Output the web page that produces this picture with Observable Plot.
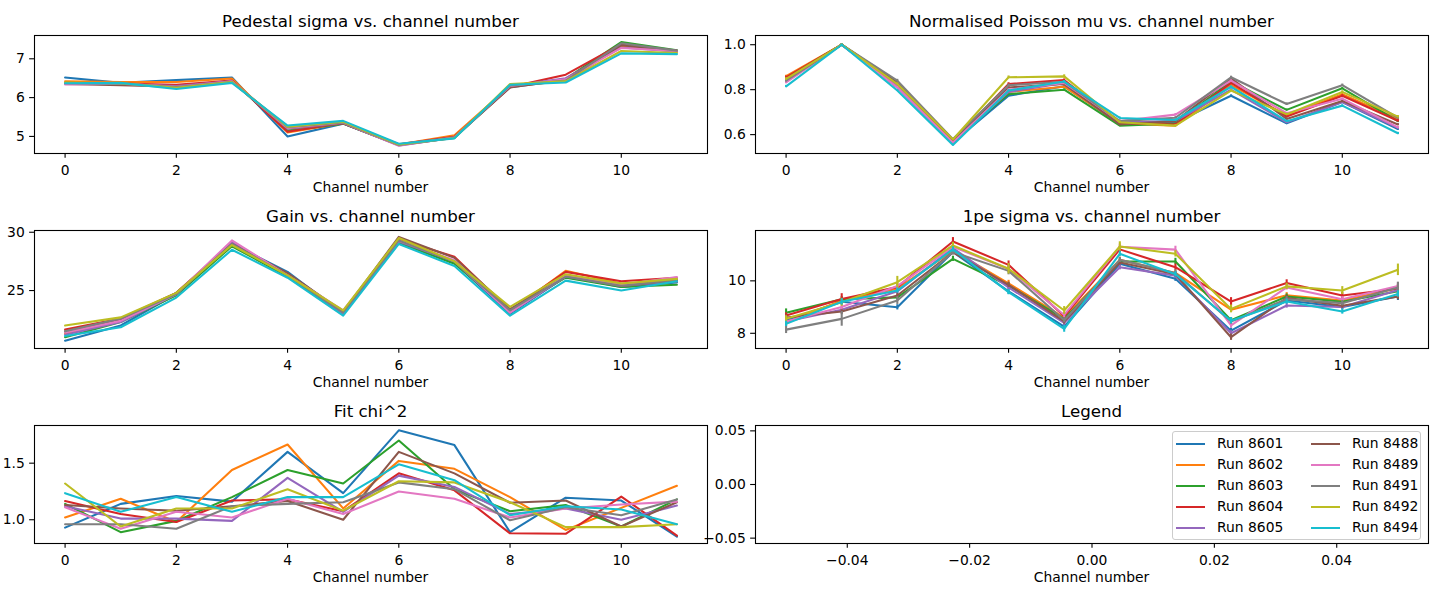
<!DOCTYPE html>
<html><head><meta charset="utf-8">
<script src="https://cdn.jsdelivr.net/npm/d3@7"></script>
<script src="https://cdn.jsdelivr.net/npm/@observablehq/plot@0.6"></script>
<style>
body{margin:0;background:#fff;font-family:"DejaVu Sans",sans-serif;color:#000;}
#root{position:relative;width:1440px;height:600px;overflow:hidden;background:#fff;}
.pl{position:absolute;}
.ttl{position:absolute;font-size:16.67px;line-height:1;white-space:nowrap;transform:translate(-50%,-50%);}
.xl{position:absolute;font-size:13.89px;line-height:1;white-space:nowrap;transform:translate(-50%,-50%);}
.leg{position:absolute;left:1172px;top:431px;width:249px;height:109px;border:1px solid #cccccc;border-radius:3px;background:rgba(255,255,255,0.8);box-sizing:border-box;}
.sw{position:absolute;height:2.1px;width:29px;}
.lt{position:absolute;font-size:13.89px;line-height:1;white-space:nowrap;transform:translateY(-50%);}
</style></head>
<body><div id="root"></div>
<script>
const channels = [0,1,2,3,4,5,6,7,8,9,10,11];
const runs = ["Run 8601","Run 8602","Run 8603","Run 8604","Run 8605","Run 8488","Run 8489","Run 8491","Run 8492","Run 8494"];
const colors = ["#1f77b4","#ff7f0e","#2ca02c","#d62728","#9467bd","#8c564b","#e377c2","#7f7f7f","#bcbd22","#17becf"];
const xTicks = [0,2,4,6,8,10];

const pedestalSigma = [
  [6.52,6.38,6.45,6.52,5.00,5.33,4.77,4.97,6.27,6.45,7.38,7.20],
  [6.42,6.40,6.40,6.49,5.10,5.34,4.79,5.03,6.30,6.42,7.33,7.18],
  [6.38,6.35,6.30,6.43,5.15,5.33,4.78,4.98,6.28,6.48,7.43,7.22],
  [6.37,6.36,6.33,6.44,5.12,5.35,4.80,4.99,6.27,6.59,7.38,7.20],
  [6.35,6.35,6.30,6.42,5.20,5.34,4.79,4.98,6.30,6.50,7.29,7.19],
  [6.35,6.32,6.28,6.41,5.22,5.33,4.78,4.97,6.26,6.46,7.35,7.21],
  [6.34,6.36,6.28,6.42,5.22,5.35,4.76,4.97,6.30,6.47,7.28,7.20],
  [6.37,6.36,6.27,6.41,5.24,5.36,4.78,4.96,6.31,6.44,7.40,7.21],
  [6.39,6.37,6.25,6.40,5.25,5.38,4.79,4.96,6.35,6.42,7.20,7.15],
  [6.37,6.38,6.22,6.38,5.28,5.40,4.81,4.95,6.33,6.39,7.14,7.12]
];
const poissonMu = [
  [0.840,1.0,0.810,0.565,0.773,0.815,0.650,0.655,0.773,0.650,0.745,0.625],
  [0.860,1.0,0.820,0.570,0.790,0.813,0.650,0.640,0.820,0.685,0.780,0.670],
  [0.850,1.0,0.830,0.575,0.780,0.800,0.640,0.650,0.837,0.710,0.806,0.660],
  [0.855,1.0,0.815,0.570,0.825,0.843,0.650,0.645,0.830,0.680,0.773,0.662],
  [0.840,1.0,0.820,0.565,0.790,0.830,0.655,0.660,0.800,0.655,0.745,0.630],
  [0.845,1.0,0.830,0.575,0.810,0.825,0.645,0.660,0.850,0.670,0.750,0.645],
  [0.832,1.0,0.810,0.565,0.800,0.830,0.660,0.689,0.840,0.695,0.760,0.632],
  [0.840,1.0,0.840,0.580,0.820,0.835,0.660,0.675,0.855,0.736,0.820,0.675],
  [0.848,1.0,0.825,0.578,0.855,0.859,0.655,0.640,0.796,0.690,0.790,0.680],
  [0.815,1.0,0.796,0.554,0.796,0.836,0.674,0.665,0.813,0.660,0.729,0.606]
];
const poissonMuErr = [
  [0.004,0.003,0.004,0.003,0.004,0.004,0.004,0.004,0.004,0.004,0.004,0.004],
  [0.004,0.003,0.004,0.003,0.004,0.004,0.004,0.004,0.004,0.004,0.004,0.004],
  [0.004,0.003,0.004,0.003,0.004,0.004,0.004,0.004,0.004,0.004,0.004,0.004],
  [0.005,0.004,0.005,0.004,0.006,0.005,0.005,0.005,0.005,0.005,0.005,0.005],
  [0.004,0.003,0.004,0.003,0.004,0.004,0.004,0.004,0.004,0.004,0.004,0.004],
  [0.004,0.003,0.004,0.003,0.004,0.004,0.004,0.004,0.004,0.004,0.004,0.004],
  [0.004,0.003,0.004,0.003,0.004,0.004,0.004,0.005,0.004,0.004,0.004,0.004],
  [0.005,0.004,0.006,0.004,0.005,0.005,0.005,0.005,0.005,0.005,0.005,0.005],
  [0.005,0.004,0.005,0.004,0.006,0.007,0.005,0.005,0.005,0.005,0.005,0.005],
  [0.004,0.003,0.004,0.003,0.004,0.004,0.004,0.004,0.004,0.004,0.004,0.004]
];
const gain = [
  [20.7,22.0,24.7,29.0,26.6,23.0,29.2,27.4,23.0,26.2,25.3,25.7],
  [21.3,22.4,24.7,29.0,26.3,23.1,29.2,27.5,23.2,26.7,25.6,25.8],
  [21.0,22.3,24.6,28.8,26.2,23.0,29.1,27.3,23.3,26.1,25.3,25.5],
  [21.66,22.6,24.8,29.1,26.4,23.1,29.4,27.9,23.3,26.6,25.8,26.1],
  [21.2,22.3,24.7,29.1,26.4,23.0,29.2,27.5,23.1,26.2,25.4,25.8],
  [21.5,22.5,24.8,29.0,26.5,23.2,29.6,27.8,23.4,26.3,25.4,25.9],
  [21.4,22.4,24.7,29.3,26.3,23.3,29.3,27.6,23.1,26.3,25.5,26.15],
  [21.5,22.6,24.7,29.0,26.3,23.1,29.3,27.5,23.3,26.2,25.4,25.9],
  [22.0,22.7,24.8,28.9,26.3,23.3,29.5,27.5,23.6,26.4,25.6,26.0],
  [21.1,21.85,24.4,28.5,26.1,22.85,29.0,27.1,22.85,25.85,25.0,25.8]
];
const peSigma = [
  [8.50,9.20,8.99,11.10,9.60,8.25,10.65,10.08,8.10,9.25,9.00,9.40],
  [8.40,9.25,9.70,11.15,9.90,8.60,10.80,10.30,8.90,9.45,9.25,9.72],
  [8.78,9.30,9.37,10.84,9.82,8.55,10.74,10.74,8.50,9.40,9.20,9.60],
  [8.68,9.31,9.76,11.50,10.61,8.65,11.20,10.52,9.21,9.92,9.44,9.70],
  [8.45,8.90,9.60,11.25,9.75,8.40,10.52,10.20,8.00,9.06,9.00,9.65],
  [8.60,8.83,9.44,11.09,9.85,8.45,10.70,10.25,7.85,9.35,9.05,9.40],
  [8.45,9.00,9.80,11.30,10.45,8.70,11.30,11.19,8.30,9.75,9.30,9.80],
  [8.14,8.55,9.25,11.10,10.38,8.50,10.80,10.30,8.45,9.30,9.15,9.75],
  [8.55,9.18,9.95,11.35,10.46,8.87,11.31,11.03,8.93,9.79,9.63,10.42],
  [8.36,9.20,9.63,11.20,9.57,8.17,11.03,10.25,8.48,9.21,8.83,9.50]
];
const peSigmaErr = [
  [0.10,0.12,0.10,0.10,0.12,0.10,0.10,0.10,0.10,0.10,0.10,0.15],
  [0.10,0.10,0.10,0.10,0.12,0.10,0.10,0.10,0.10,0.10,0.10,0.12],
  [0.15,0.10,0.10,0.10,0.10,0.10,0.10,0.12,0.10,0.10,0.10,0.12],
  [0.10,0.20,0.12,0.15,0.15,0.12,0.12,0.12,0.15,0.12,0.12,0.15],
  [0.10,0.10,0.10,0.10,0.10,0.10,0.10,0.10,0.10,0.10,0.10,0.12],
  [0.10,0.12,0.10,0.10,0.10,0.10,0.10,0.10,0.12,0.10,0.10,0.12],
  [0.10,0.10,0.12,0.10,0.12,0.10,0.10,0.13,0.10,0.10,0.10,0.12],
  [0.15,0.28,0.15,0.10,0.15,0.10,0.10,0.12,0.10,0.10,0.10,0.20],
  [0.12,0.15,0.22,0.12,0.20,0.15,0.18,0.12,0.15,0.12,0.15,0.22],
  [0.10,0.12,0.10,0.10,0.10,0.13,0.10,0.10,0.12,0.10,0.10,0.12]
];
const fitChi2 = [
  [0.93,1.14,1.21,1.16,1.60,1.235,1.79,1.66,0.89,1.195,1.17,0.85],
  [1.02,1.185,0.98,1.44,1.665,1.10,1.52,1.45,1.20,0.91,1.105,1.30],
  [1.14,0.89,0.99,1.20,1.44,1.32,1.70,1.27,1.075,1.13,0.94,1.18],
  [1.165,1.05,0.98,1.17,1.18,1.075,1.41,1.26,0.88,0.876,1.205,0.86],
  [1.12,1.01,1.01,0.99,1.37,1.07,1.39,1.29,1.05,1.10,1.00,1.125],
  [1.13,1.10,1.08,1.12,1.165,1.00,1.60,1.41,1.15,1.17,0.94,1.155],
  [1.11,0.92,1.07,1.02,1.185,1.05,1.25,1.185,1.02,1.10,1.135,1.16],
  [0.96,0.96,0.92,1.12,1.14,1.155,1.33,1.27,0.995,1.11,1.04,1.18],
  [1.32,0.94,1.10,1.10,1.27,1.08,1.34,1.33,1.155,0.935,0.935,0.96],
  [1.235,1.07,1.20,1.07,1.20,1.20,1.49,1.35,1.04,1.12,1.09,0.96]
];
const titles = ["Pedestal sigma vs. channel number","Normalised Poisson mu vs. channel number","Gain vs. channel number","1pe sigma vs. channel number","Fit chi^2","Legend"];
const xLabel = "Channel number";

const root = document.getElementById("root");
const FW = 673, FH = 118;
const cols = [{left:0, mL:34, fx:34}, {left:700, mL:55, fx:755}];
const rows = [35, 230, 425];

function tidy(values, errs){
  const out = [];
  values.forEach((row, i) => row.forEach((v, j) => out.push({run: runs[i], ch: channels[j], v, e: errs ? errs[i][j] : 0})));
  return out;
}

function addText(cls, text, x, y){
  const d = document.createElement("div");
  d.className = cls; d.textContent = text;
  d.style.left = x + "px"; d.style.top = y + "px";
  root.appendChild(d);
}

function panel(ci, ri, title, opts){
  const c = cols[ci], top = rows[ri];
  const mT = 5, mB = 30, mR = 6;
  const marks = [];
  if (opts.values){
    const data = tidy(opts.values, opts.errs);
    runs.forEach(r => {
      const sub = data.filter(d => d.run === r);
      marks.push(Plot.line(sub, {x: "ch", y: "v", stroke: "run", strokeWidth: 2.08, strokeLinejoin: "round"}));
      if (opts.errs) marks.push(Plot.ruleX(sub, {x: "ch", y1: d => d.v - d.e, y2: d => d.v + d.e, stroke: "run", strokeWidth: 2.08}));
    });
  }
  marks.push(Plot.frame({stroke: "#000", strokeWidth: 1.1}));
  marks.push(Plot.axisX({ticks: opts.xTicks || xTicks, tickFormat: opts.xFmt || (d => String(d)), label: null, tickSize: 4.86, tickPadding: 7, strokeWidth: 1.1}));
  marks.push(Plot.axisY({ticks: opts.yTicks, tickFormat: opts.yFmt || (d => String(d)), label: null, tickSize: 4.86, tickPadding: 4.86, strokeWidth: 1.1}));
  const svg = Plot.plot({
    width: c.mL + FW + mR, height: mT + FH + mB,
    marginLeft: c.mL, marginRight: mR, marginTop: mT, marginBottom: mB,
    style: {fontFamily: "DejaVu Sans", fontSize: "13.89px", color: "#000", background: "transparent", overflow: "visible"},
    x: {domain: opts.xDomain || [-0.55, 11.55]},
    y: {domain: opts.yDomain},
    color: {domain: runs, range: colors},
    marks
  });
  svg.classList.add("pl");
  svg.style.left = c.left + "px";
  svg.style.top = (top - mT) + "px";
  root.appendChild(svg);
  addText("ttl", title, c.fx + FW / 2, top - 13);
  addText("xl", xLabel, c.fx + FW / 2, top + FH + 35);
}

panel(0, 0, titles[0], {values: pedestalSigma, yDomain: [4.56, 7.6], yTicks: [5, 6, 7]});
panel(1, 0, titles[1], {values: poissonMu, errs: poissonMuErr, yDomain: [0.516, 1.041], yTicks: [0.6, 0.8, 1.0], yFmt: d3.format(".1f")});
panel(0, 1, titles[2], {values: gain, yDomain: [20.03, 30.15], yTicks: [25, 30]});
panel(1, 1, titles[3], {values: peSigma, errs: peSigmaErr, yDomain: [7.42, 11.92], yTicks: [8, 10]});
panel(0, 2, titles[4], {values: fitChi2, yDomain: [0.79, 1.833], yTicks: [1.0, 1.5], yFmt: d3.format(".1f")});
panel(1, 2, titles[5], {yDomain: [-0.055, 0.055], yTicks: [-0.05, 0, 0.05], yFmt: d3.format(".2f"),
  xDomain: [-0.055, 0.055], xTicks: [-0.04, -0.02, 0, 0.02, 0.04], xFmt: d3.format(".2f")});

// legend
const leg = document.createElement("div");
leg.className = "leg";
root.appendChild(leg);
runs.forEach((r, i) => {
  const col = Math.floor(i / 5), row = i % 5;
  const cy = 444 + row * 21;
  const sx = col === 0 ? 1176 : 1311;
  const sw = document.createElement("div");
  sw.className = "sw"; sw.style.background = colors[i];
  sw.style.left = sx + "px"; sw.style.top = (cy - 1) + "px";
  root.appendChild(sw);
  addText("lt", r, sx + 41, cy);
});
</script>
</body></html>
